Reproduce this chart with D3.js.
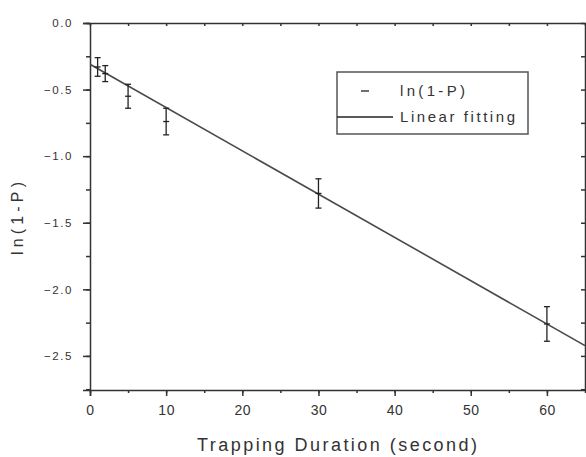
<!DOCTYPE html>
<html>
<head>
<meta charset="utf-8">
<script src="https://cdn.jsdelivr.net/npm/d3@7"></script>
<style>
  body { margin: 0; background: #fff; }
  svg text { font-family: "Liberation Sans", Arial, sans-serif; fill: #333; }
</style>
</head>
<body>
<div id="chart"></div>
<script>
// trapping duration (s) and measured ln(1-P) with error half-widths
const durations = [1, 2, 5, 10, 30, 60];
const lnValues = [-0.33, -0.38, -0.55, -0.74, -1.28, -2.26];
const lnErrors = [0.07, 0.06, 0.09, 0.10, 0.11, 0.13];

// linear fit parameters
const fitIntercept = -0.31;
const fitSlope = -0.0325;
const fitRange = [0, 65];

const xTicks = [0, 10, 20, 30, 40, 50, 60];
const yTicks = [0, -0.5, -1.0, -1.5, -2.0, -2.5];

const width = 586, height = 457;
const margin = { top: 23, right: 1, bottom: 67, left: 90 };

const svg = d3.select("#chart").append("svg")
    .attr("width", width)
    .attr("height", height);

const x = d3.scaleLinear().domain([0, 65]).range([margin.left, width - margin.right]);
const y = d3.scaleLinear().domain([0, -2.756]).range([margin.top, height - margin.bottom]);

const axisColor = "#333";

function styleAxis(g) {
    g.selectAll("path, line").attr("stroke", axisColor).attr("stroke-width", 1.5);
}

// minor ticks
const xMinor = d3.range(0, 66, 5);
const yMinor = d3.range(0, -2.76, -0.25);

// bottom axis
svg.append("g")
    .attr("transform", `translate(0,${y.range()[1]})`)
    .call(d3.axisBottom(x).tickValues(xMinor).tickSize(3).tickFormat(""))
    .call(g => g.select(".domain").remove())
    .call(styleAxis);
svg.append("g")
    .attr("transform", `translate(0,${y.range()[1]})`)
    .call(d3.axisBottom(x).tickValues(xTicks).tickSize(6).tickSizeOuter(0).tickPadding(9).tickFormat(d3.format("d")))
    .call(styleAxis)
    .call(g => g.selectAll("text").style("font-size", "14px").style("letter-spacing", "0.5px").attr("fill", "#333"))
    .call(g => g.select(".domain").attr("d", `M${margin.left - 7},0.5H${width}`));

// top axis (ticks inward)
svg.append("g")
    .attr("transform", `translate(0,${margin.top})`)
    .call(d3.axisBottom(x).tickValues(xMinor).tickSize(3).tickFormat(""))
    .call(g => g.select(".domain").attr("d", `M${margin.left - 7},0.5H${width}`))
    .call(styleAxis);

// left axis
svg.append("g")
    .attr("transform", `translate(${margin.left},0)`)
    .call(d3.axisLeft(y).tickValues(yMinor).tickSize(4).tickFormat(""))
    .call(g => g.select(".domain").remove())
    .call(styleAxis);
svg.append("g")
    .attr("transform", `translate(${margin.left},0)`)
    .call(d3.axisLeft(y).tickValues(yTicks).tickSize(7).tickSizeOuter(0).tickPadding(10).tickFormat(d3.format(".1f")))
    .call(styleAxis)
    .call(g => g.selectAll("text").style("font-size", "11.5px").style("letter-spacing", "1.6px").attr("fill", "#333"))
    .call(g => g.select(".domain").attr("d", `M0.5,${margin.top}V${y.range()[1] + 6}`));

// right axis (ticks inward)
svg.append("g")
    .attr("transform", `translate(${width - margin.right},0)`)
    .call(d3.axisLeft(y).tickValues(yMinor).tickSize(4).tickSizeOuter(0).tickFormat(""))
    .call(styleAxis);

// axis titles
svg.append("text")
    .attr("x", 197)
    .attr("y", 451)
    .attr("textLength", 280)
    .attr("lengthAdjust", "spacing")
    .style("font-size", "18px")
    .text("Trapping Duration (second)");

svg.append("text")
    .attr("transform", `translate(23,255) rotate(-90)`)
    .attr("textLength", 73)
    .attr("lengthAdjust", "spacing")
    .style("font-size", "16px")
    .text("ln(1-P)");

// clip to plot area
svg.append("clipPath").attr("id", "clip")
  .append("rect")
    .attr("x", margin.left).attr("y", margin.top)
    .attr("width", width - margin.right - margin.left)
    .attr("height", y.range()[1] - margin.top);

const plot = svg.append("g").attr("clip-path", "url(#clip)");

// fit line
const fitLine = d3.line()
    .x(d => x(d))
    .y(d => y(fitIntercept + fitSlope * d));
plot.append("path")
    .datum(fitRange)
    .attr("d", fitLine)
    .attr("fill", "none")
    .attr("stroke", "#4a4a4a")
    .attr("stroke-width", 1.6);

// error bars
const pts = durations.map((d, i) => ({ x: d, y: lnValues[i], e: lnErrors[i] }));
const eb = plot.selectAll(".eb").data(pts).join("g").attr("class", "eb")
    .attr("stroke", "#222").attr("stroke-width", 1.3);
eb.append("line")
    .attr("x1", d => x(d.x)).attr("x2", d => x(d.x))
    .attr("y1", d => y(d.y + d.e)).attr("y2", d => y(d.y - d.e));
eb.append("line")
    .attr("x1", d => x(d.x) - 3).attr("x2", d => x(d.x) + 3)
    .attr("y1", d => y(d.y + d.e)).attr("y2", d => y(d.y + d.e));
eb.append("line")
    .attr("x1", d => x(d.x) - 3).attr("x2", d => x(d.x) + 3)
    .attr("y1", d => y(d.y - d.e)).attr("y2", d => y(d.y - d.e));
eb.append("line")
    .attr("x1", d => x(d.x) - 3).attr("x2", d => x(d.x) + 3)
    .attr("y1", d => y(d.y)).attr("y2", d => y(d.y));

// legend
const lg = svg.append("g").attr("transform", "translate(337,72)");
lg.append("rect")
    .attr("width", 191).attr("height", 62)
    .attr("fill", "#fff")
    .attr("stroke", "#555").attr("stroke-width", 1.5);
lg.append("line")
    .attr("x1", 24).attr("x2", 32).attr("y1", 19).attr("y2", 19)
    .attr("stroke", "#222").attr("stroke-width", 1.3);
lg.append("text").attr("x", 63).attr("y", 24)
    .attr("textLength", 65).attr("lengthAdjust", "spacing")
    .style("font-size", "15px").text("ln(1-P)");
lg.append("line")
    .attr("x1", 0).attr("x2", 56).attr("y1", 45).attr("y2", 45)
    .attr("stroke", "#222").attr("stroke-width", 1.3);
lg.append("text").attr("x", 63).attr("y", 50)
    .attr("textLength", 115).attr("lengthAdjust", "spacing")
    .style("font-size", "15px").text("Linear fitting");
</script>
</body>
</html>
